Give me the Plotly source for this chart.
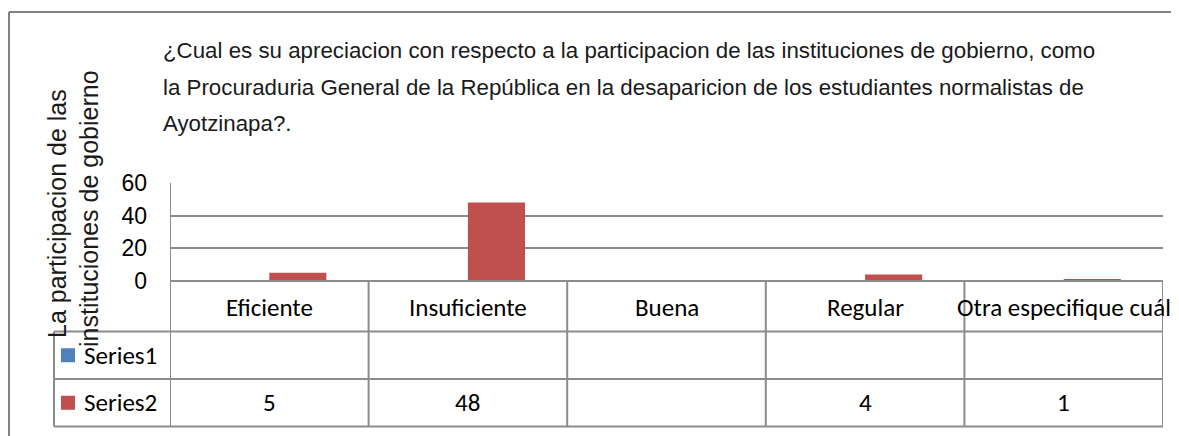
import plotly.graph_objects as go

categories = ["Eficiente", "Insuficiente", "Buena", "Regular", "Otra especifique cuál"]
series_names = ["Series1", "Series2"]
series1 = [None, None, None, None, None]
series2 = [5, 48, None, 4, 1]
y_ticks = [0, 20, 40, 60]
title_lines = [
    "¿Cual es su apreciacion con respecto a la participacion de las instituciones de gobierno, como",
    "la Procuraduria General de la República en la desaparicion de los estudiantes normalistas de",
    "Ayotzinapa?.",
]
ytitle_lines = ["La participacion de las", "instituciones de gobierno"]
colors = ["#4F81BD", "#C0504D"]

OFF = 8  # page body margin added by the html page
W, H = 1179 - OFF, 436 - OFF
L, R, T, B = 170, 1163, 183, 281  # plot area in screen pixels
GRID = "#8c8c8c"
TITLE_FONT = "Liberation Sans, Arial"
AX_FONT = "Liberation Sans, Arial"
TAB_FONT = "Carlito, Calibri, Lato, sans-serif"


def px(xp):
    return (xp - L) / (R - L)


def py(yp):
    return (B - yp) / (B - T)


fig = go.Figure()
for name, vals, c in zip(series_names, [series1, series2], colors):
    fig.add_trace(go.Bar(x=categories, y=vals, name=name, marker_color=c,
                         marker_line_width=0, showlegend=False))

shapes = []
annotations = []

# outer chart frame
shapes.append(dict(type="line", xref="paper", yref="paper", x0=px(9), x1=px(1200),
                   y0=py(12), y1=py(12), line=dict(color="#808080", width=2)))
shapes.append(dict(type="line", xref="paper", yref="paper", x0=px(9), x1=px(9),
                   y0=py(12), y1=py(450), line=dict(color="#808080", width=2)))

# data table geometry (screen pixels)
row_lines = [B, 331.5, 379, 426.5]
leg_left = 54
n = len(categories)

shapes.append(dict(type="line", xref="paper", yref="paper", x0=0, x1=1,
                   y0=py(row_lines[0]), y1=py(row_lines[0]), line=dict(color=GRID, width=2)))
for yl in row_lines[1:]:
    shapes.append(dict(type="line", xref="paper", yref="paper", x0=px(leg_left), x1=1,
                       y0=py(yl), y1=py(yl), line=dict(color=GRID, width=2)))
for i in range(n + 1):
    shapes.append(dict(type="line", xref="x", yref="paper", x0=i - 0.5, x1=i - 0.5,
                       y0=py(row_lines[0]) if i > 0 else 1, y1=py(row_lines[-1]),
                       line=dict(color=GRID, width=2)))
shapes.append(dict(type="line", xref="paper", yref="paper", x0=px(leg_left), x1=px(leg_left),
                   y0=py(row_lines[1]), y1=py(row_lines[-1]), line=dict(color=GRID, width=2)))

row_centers = [(row_lines[k] + row_lines[k + 1]) / 2 for k in range(3)]

for i, cat in enumerate(categories):
    annotations.append(dict(text=cat, xref="x", yref="paper", x=i, y=py(row_centers[0] + 1),
                            showarrow=False, xanchor="center", yanchor="middle",
                            font=dict(family=TAB_FONT, size=25, color="#000000")))
for r, (name, vals, c) in enumerate(zip(series_names, [series1, series2], colors)):
    yc = row_centers[r + 1]
    shapes.append(dict(type="rect", xref="paper", yref="paper", x0=px(61), x1=px(75),
                       y0=py(yc - 7), y1=py(yc + 7), fillcolor=c, line=dict(width=0)))
    annotations.append(dict(text=name, xref="paper", yref="paper", x=px(82), y=py(yc),
                            showarrow=False, xanchor="left", yanchor="middle",
                            font=dict(family=TAB_FONT, size=25, color="#000000")))
    for i, v in enumerate(vals):
        if v is None:
            continue
        annotations.append(dict(text=str(v), xref="x", yref="paper", x=i, y=py(yc),
                                showarrow=False, xanchor="center", yanchor="middle",
                                font=dict(family=TAB_FONT, size=25, color="#000000")))

for k, line in enumerate(title_lines):
    annotations.append(dict(text=line, xref="paper", yref="paper", x=px(161), y=py(51 + 36 * k),
                            showarrow=False, xanchor="left", yanchor="middle",
                            font=dict(family=TITLE_FONT, size=22.3, color="#1a1a1a")))

for xc, yc, line in zip([57, 89], [214, 209], ytitle_lines):
    annotations.append(dict(text=line, xref="paper", yref="paper", x=px(xc), y=py(yc),
                            showarrow=False, textangle=-90, xanchor="center", yanchor="middle",
                            font=dict(family=AX_FONT, size=25, color="#1a1a1a")))

fig.update_layout(
    width=W, height=H,
    margin=dict(l=L - OFF, r=W - (R - OFF), t=T - OFF, b=H - (B - OFF), autoexpand=False),
    paper_bgcolor="white", plot_bgcolor="white",
    barmode="group", bargap=0.425, bargroupgap=0,
    shapes=shapes, annotations=annotations,
    xaxis=dict(showticklabels=False, showgrid=False, zeroline=False, showline=False,
               range=[-0.5, n - 0.5]),
    yaxis=dict(range=[0, 60], tickvals=y_ticks, showgrid=True, gridcolor=GRID, gridwidth=2,
               zeroline=False, showline=False, ticks="", ticklabelstandoff=22,
               tickfont=dict(family=AX_FONT, size=23, color="#000000")),
)

fig.write_html("out.html")
